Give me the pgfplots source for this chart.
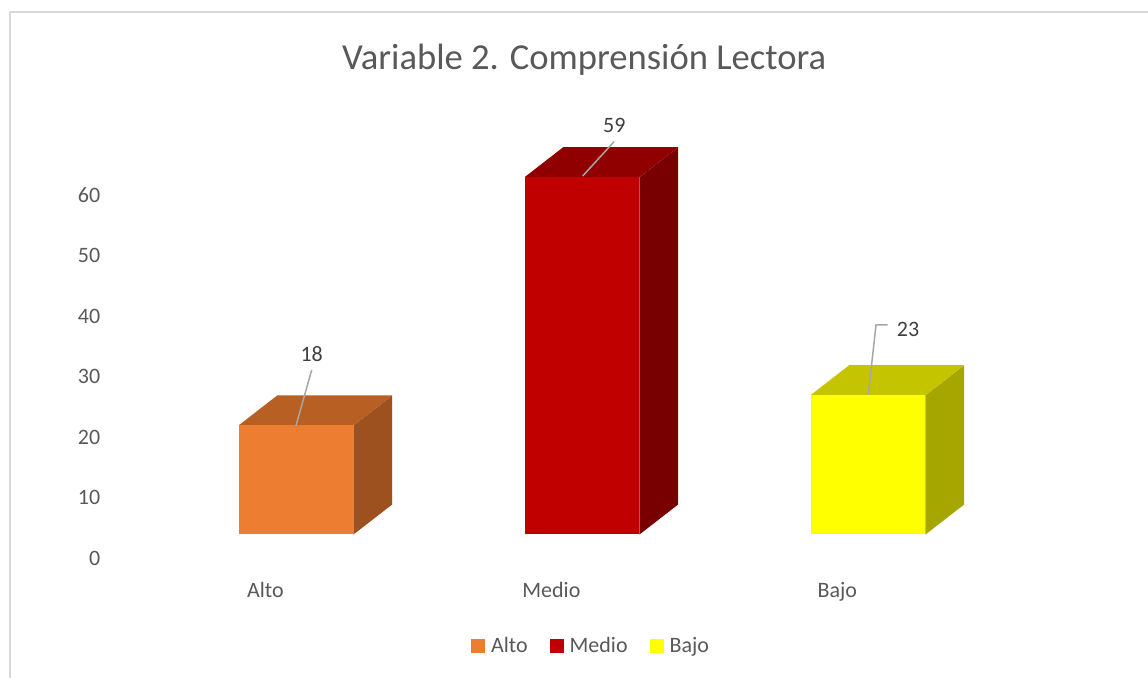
\documentclass[border=0pt]{standalone}
\usepackage{fontspec}
\setmainfont{Carlito}
\usepackage{pgfplots}
\pgfplotsset{compat=1.18}
\definecolor{altoF}{HTML}{ED7D31}
\definecolor{altoT}{HTML}{B85F23}
\definecolor{altoS}{HTML}{9C511F}
\definecolor{medioF}{HTML}{C00000}
\definecolor{medioT}{HTML}{900000}
\definecolor{medioS}{HTML}{780000}
\definecolor{bajoF}{HTML}{FFFF00}
\definecolor{bajoT}{HTML}{C4C400}
\definecolor{bajoS}{HTML}{A6A600}
\definecolor{frameC}{HTML}{D9D9D9}
\definecolor{textC}{HTML}{595959}
\definecolor{dataC}{HTML}{404040}
\definecolor{leadC}{HTML}{A6A6A6}
\begin{document}
\begin{tikzpicture}
\useasboundingbox (0,0) rectangle (574pt,338.5pt);
\fill[white] (0,0) rectangle (574pt,338.5pt);
\draw[line width=1pt, color=frameC] (5pt,-2pt) -- (5pt,332.5pt) -- (576pt,332.5pt);
\node[anchor=base, text=textC, inner sep=0pt, font=\fontsize{18.3pt}{22pt}\selectfont] at (292.1pt,303.85pt) {Variable 2. Comprensión Lectora};
\begin{axis}[
  at={(49.33pt,53.1pt)}, anchor=south west,
  scale only axis, width=513.37pt, height=230.09pt,
  xmin=-0.69, xmax=2.9, ymin=-6, ymax=70,
  axis line style={draw=none}, major tick length=0pt,
  clip=false,
  /pgf/number format/assume math mode=true,
  xtick={-0.107,0.893,1.893}, xticklabels={Alto,Medio,Bajo},
  ytick={-3.93,6.07,16.07,26.07,36.07,46.07,56.07},
  yticklabels={0,10,20,30,40,50,60},
  ticklabel style={font=\fontsize{11pt}{13pt}\selectfont, text=textC},
  yticklabel style={anchor=east, inner sep=0pt, xshift=1pt},
  xticklabel style={anchor=base, inner sep=0pt, yshift=-13.25pt},
  legend columns=3,
  legend style={draw=none, fill=none, at={(0.4786,-0.1634)}, anchor=center,
    font=\fontsize{11pt}{13pt}\selectfont, text=textC,
    nodes={inner sep=0pt},
    /tikz/every odd column/.append style={column sep=3pt},
    /tikz/every even column/.append style={column sep=11pt}},
  legend image code/.code={\fill[#1] (0pt,-3.5pt) rectangle (7pt,3.5pt);},
]
% side faces
\addplot[fill=altoS, draw=none, forget plot] coordinates {(0.201,0) (0.3363,4.955) (0.3363,22.955) (0.201,18)} -- cycle;
\addplot[fill=medioS, draw=none, forget plot] coordinates {(1.201,0) (1.3363,4.955) (1.3363,63.955) (1.201,59)} -- cycle;
\addplot[fill=bajoS, draw=none, forget plot] coordinates {(2.201,0) (2.3363,4.955) (2.3363,27.955) (2.201,23)} -- cycle;
% top faces
\addplot[fill=altoT, draw=none, forget plot] coordinates {(-0.201,18) (-0.0657,22.955) (0.3363,22.955) (0.201,18)} -- cycle;
\addplot[fill=medioT, draw=none, forget plot] coordinates {(0.799,59) (0.9343,63.955) (1.3363,63.955) (1.201,59)} -- cycle;
\addplot[fill=bajoT, draw=none, forget plot] coordinates {(1.799,23) (1.9343,27.955) (2.3363,27.955) (2.201,23)} -- cycle;
% front faces
\addplot[ybar, bar width=0.402, bar shift=0pt, fill=altoF, draw=none] coordinates {(0,18)};
\addlegendentry{Alto}
\addplot[ybar, bar width=0.402, bar shift=0pt, fill=medioF, draw=none] coordinates {(1,59)};
\addlegendentry{Medio}
\addplot[ybar, bar width=0.402, bar shift=0pt, fill=bajoF, draw=none] coordinates {(2,23)};
\addlegendentry{Bajo}
% leader lines
\draw[leadC, line width=0.75pt] (axis cs:0,17.97) -- (axis cs:0.0549,27.17);
\draw[leadC, line width=0.75pt] (axis cs:1.0024,59.2) -- (axis cs:1.112,64.87);
\draw[leadC, line width=0.75pt] (axis cs:2.001,23.15) -- (axis cs:2.028,34.6) -- (axis cs:2.069,34.6);
% data labels
\node[text=dataC, font=\fontsize{11pt}{13pt}\selectfont, inner sep=0pt] at (axis cs:0.0549,29.81) {18};
\node[text=dataC, font=\fontsize{11pt}{13pt}\selectfont, inner sep=0pt] at (axis cs:1.1129,67.63) {59};
\node[text=dataC, font=\fontsize{11pt}{13pt}\selectfont, inner sep=0pt] at (axis cs:2.1399,33.94) {23};
\end{axis}
\end{tikzpicture}
\end{document}
